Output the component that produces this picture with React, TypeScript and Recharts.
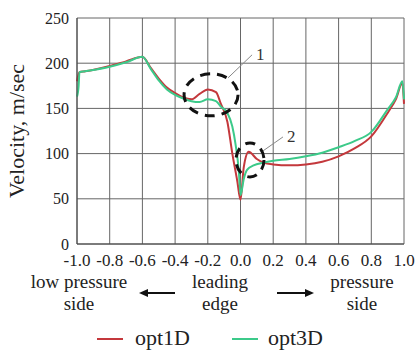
import { LineChart, Line, XAxis, YAxis, CartesianGrid, ReferenceDot } from 'recharts'

// chord position (-1 = low pressure side, 0 = leading edge, 1 = pressure side)
const opt1dX = [-1.0, -0.985, -0.95, -0.8, -0.7, -0.6, -0.55, -0.5, -0.45, -0.4, -0.35, -0.3, -0.25, -0.2, -0.15, -0.12, -0.08, -0.05, -0.02, 0.0, 0.02, 0.05, 0.1, 0.14, 0.2, 0.3, 0.4, 0.5, 0.6, 0.7, 0.8, 0.9, 0.95, 0.99, 1.0]
const opt1dV = [180, 190, 191, 197, 202, 207, 195, 183, 173, 167, 162, 160, 166, 171, 168, 155, 135, 100, 70, 49, 85, 102, 94, 90, 88, 87, 88, 91, 97, 106, 119, 145, 160, 178, 155]

const opt3dX = [-1.0, -0.99, -0.985, -0.95, -0.8, -0.7, -0.6, -0.55, -0.5, -0.45, -0.4, -0.35, -0.3, -0.25, -0.2, -0.15, -0.12, -0.08, -0.05, -0.03, -0.01, 0.0, 0.02, 0.04, 0.08, 0.14, 0.2, 0.3, 0.4, 0.5, 0.6, 0.7, 0.8, 0.9, 0.95, 0.99, 1.0]
const opt3dV = [163, 175, 190, 191, 196, 201, 207, 194, 181, 171, 165, 161, 158, 157, 160, 158, 152, 145, 130, 110, 80, 54, 72, 82, 87, 90, 92, 94, 97, 101, 107, 114, 124, 149, 162, 180, 160]

const xTicks = [-1.0, -0.8, -0.6, -0.4, -0.2, 0.0, 0.2, 0.4, 0.6, 0.8, 1.0]
const yTicks = [0, 50, 100, 150, 200, 250]

const opt1dData = opt1dX.map((x, i) => ({ x, v: opt1dV[i] }))
const opt3dData = opt3dX.map((x, i) => ({ x, v: opt3dV[i] }))

const RED = '#c4383c'
const GREEN = '#3cca8a'
const SERIF = '"Liberation Serif", "Times New Roman", serif'

const ellipse = (rx: number, ry: number) => (p: any) => (
    <ellipse cx={p.cx} cy={p.cy} rx={rx} ry={ry} fill="none" stroke="#111" strokeWidth={3} strokeDasharray="10 7" />
)

const marker = (label: string, dx1: number, dy1: number, dx2: number, dy2: number) => (p: any) => (
    <g>
        <line x1={p.cx + dx1} y1={p.cy + dy1} x2={p.cx + dx2} y2={p.cy + dy2} stroke="#888" strokeWidth={1} />
        <text x={p.cx + dx2 + 4} y={p.cy + dy2 + 5} fontFamily={SERIF} fontSize={17} fill="#333">{label}</text>
    </g>
)

export default function App() {
    return (
        <div style={{ position: 'absolute', left: 0, top: 0, width: 415, height: 350, background: '#fff', fontFamily: SERIF }}>
            <LineChart width={415} height={275} margin={{ top: 18, right: 11, bottom: 1, left: 0 }}>
                <CartesianGrid stroke="#666" strokeWidth={1} horizontalValues={yTicks} verticalValues={xTicks} />
                <XAxis
                    type="number"
                    dataKey="x"
                    domain={[-1, 1]}
                    ticks={xTicks}
                    tickFormatter={(v: number) => v.toFixed(1)}
                    allowDuplicatedCategory={false}
                    stroke="#444"
                    tickLine={false}
                    tickSize={0}
                    tickMargin={10}
                    height={30}
                    interval={0}
                    tick={{ fill: '#222', fontSize: 17, fontFamily: SERIF }}
                />
                <YAxis
                    type="number"
                    domain={[0, 250]}
                    ticks={yTicks}
                    width={77}
                    stroke="#444"
                    tickLine={false}
                    tickSize={0}
                    tickMargin={8}
                    tick={{ fill: '#222', fontSize: 16, fontFamily: SERIF }}
                    label={{ value: 'Velocity, m/sec', angle: -90, position: 'insideLeft', offset: 16, style: { fontSize: 22, fontFamily: SERIF, fill: '#222', textAnchor: 'middle' } }}
                />
                <Line data={opt1dData} dataKey="v" type="monotone" stroke={RED} strokeWidth={2} dot={false} isAnimationActive={false} />
                <Line data={opt3dData} dataKey="v" type="monotone" stroke={GREEN} strokeWidth={2} dot={false} isAnimationActive={false} />
                <ReferenceDot x={-0.18} y={165} shape={ellipse(27, 21)} />
                <ReferenceDot x={0.058} y={93} shape={ellipse(14, 17)} />
                <ReferenceDot x={-0.18} y={165} shape={marker('1', 17, -17, 41, -40)} />
                <ReferenceDot x={0.058} y={93} shape={marker('2', 13, -9, 33, -23)} />
            </LineChart>
            <div style={{ position: 'absolute', top: 271, left: 0, width: 415, fontSize: 19, color: '#222', lineHeight: '22px' }}>
                <div style={{ position: 'absolute', left: 14, width: 130, textAlign: 'center' }}>low pressure<br />side</div>
                <div style={{ position: 'absolute', left: 175, width: 90, textAlign: 'center' }}>leading<br />edge</div>
                <div style={{ position: 'absolute', left: 312, width: 100, textAlign: 'center' }}>pressure<br />side</div>
                <svg style={{ position: 'absolute', left: 0, top: 0 }} width={415} height={45}>
                    <line x1={175} y1={22} x2={146} y2={22} stroke="#111" strokeWidth={2} />
                    <polygon points="139,22 148,18 148,26" fill="#111" />
                    <line x1={277} y1={22} x2={307} y2={22} stroke="#111" strokeWidth={2} />
                    <polygon points="314,22 305,18 305,26" fill="#111" />
                </svg>
            </div>
            <div style={{ position: 'absolute', top: 325, left: 0, width: 415, height: 25, fontSize: 22, color: '#222', lineHeight: '25px' }}>
                <svg style={{ position: 'absolute', left: 0, top: 0 }} width={415} height={25}>
                    <line x1={97} y1={14} x2={123} y2={14} stroke={RED} strokeWidth={2} />
                    <line x1={232} y1={14} x2={258} y2={14} stroke={GREEN} strokeWidth={2} />
                </svg>
                <span style={{ position: 'absolute', left: 135, top: 0 }}>opt1D</span>
                <span style={{ position: 'absolute', left: 268, top: 0 }}>opt3D</span>
            </div>
        </div>
    )
}
